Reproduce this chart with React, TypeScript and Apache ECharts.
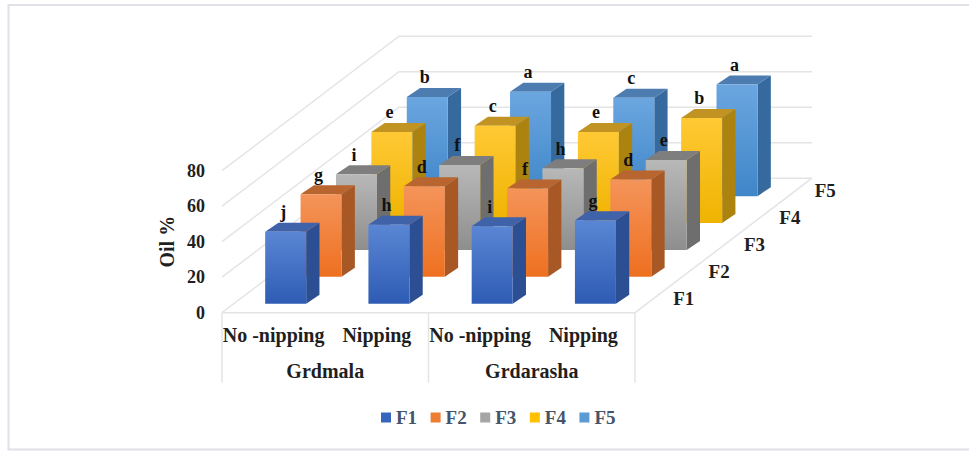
import React, { useEffect, useRef } from "react";
import * as echarts from "echarts";

// Oil percentage by nipping treatment (columns) and fertiliser level (depth rows)
const treatments = ["No -nipping", "Nipping", "No -nipping", "Nipping"];
const genotypes = ["Grdmala", "Grdarasha"];
const levels = ["F1", "F2", "F3", "F4", "F5"];
const yTicks = [0, 20, 40, 60, 80];

const f1Values = [40.5, 44.5, 43.6, 47];
const f2Values = [46.6, 51, 49.8, 54.9];
const f3Values = [42.6, 47.9, 46, 50.7];
const f4Values = [51.3, 54.8, 51.3, 59.2];
const f5Values = [55.9, 58.8, 55.4, 62.9];
const levelValues = [f1Values, f2Values, f3Values, f4Values, f5Values];

const f1Letters = ["j", "h", "i", "g"];
const f2Letters = ["g", "d", "f", "d"];
const f3Letters = ["i", "f", "h", "e"];
const f4Letters = ["e", "c", "e", "b"];
const f5Letters = ["b", "a", "c", "a"];
const levelLetters = [f1Letters, f2Letters, f3Letters, f4Letters, f5Letters];

const FONT = '"Liberation Serif", "Times New Roman", serif';
const INK = "#1f1f1f";
const WALL = "#e4e4e4";

// Oblique projection: one depth row moves this far on screen
const ROW_DX = 35.4;
const ROW_DY = -26.9;
// Bar footprint on screen
const BAR_W = 41;
const BAR_DX = 13.3;
const BAR_DY = -9;
const ROWS = levels.length;

const palette = [
  { legend: "#3565bd", hi: "#5a86d4", lo: "#2e5cb4", side: "#2b4f92", top: "#3f62a8" },
  { legend: "#ed7d31", hi: "#f4945a", lo: "#ee7020", side: "#a85824", top: "#b9652f" },
  { legend: "#a5a5a5", hi: "#b8b8b8", lo: "#8e8e8e", side: "#6e6e6e", top: "#7e7e7e" },
  { legend: "#ffc000", hi: "#ffc935", lo: "#efb300", side: "#ad8310", top: "#c09322" },
  { legend: "#5b9bd5", hi: "#6ba6e0", lo: "#3f86c8", side: "#36699e", top: "#4c7cb0" },
];

type Pt = [number, number];

// Front-lower-left corner of a bar, on screen
function barOrigin(api: any, cat: number, row: number): Pt {
  const [cx, y0] = api.coord([cat, 0]);
  return [
    cx + 1 + (row + 0.5) * ROW_DX - (BAR_W + BAR_DX) / 2,
    y0 + (row + 0.5) * ROW_DY - BAR_DY / 2,
  ];
}

function barHeight(api: any, value: number): number {
  return api.size([0, value])[1];
}

function makeBarSeries(row: number) {
  const c = palette[row];
  return {
    type: "custom",
    name: levels[row],
    z: 10 - row,
    silent: true,
    itemStyle: { color: c.legend },
    encode: { x: 0, y: 1 },
    data: levelValues[row].map((v, i) => [i, v]),
    renderItem: (_p: any, api: any) => {
      const [x, y] = barOrigin(api, api.value(0), row);
      const h = barHeight(api, api.value(1));
      const front: Pt[] = [[x, y], [x + BAR_W, y], [x + BAR_W, y - h], [x, y - h]];
      const side: Pt[] = [
        [x + BAR_W, y],
        [x + BAR_W + BAR_DX, y + BAR_DY],
        [x + BAR_W + BAR_DX, y + BAR_DY - h],
        [x + BAR_W, y - h],
      ];
      const top: Pt[] = [
        [x, y - h],
        [x + BAR_W, y - h],
        [x + BAR_W + BAR_DX, y + BAR_DY - h],
        [x + BAR_DX, y + BAR_DY - h],
      ];
      return {
        type: "group",
        children: [
          { type: "polygon", shape: { points: side }, style: { fill: c.side } },
          { type: "polygon", shape: { points: top }, style: { fill: c.top } },
          {
            type: "polygon",
            shape: { points: front },
            style: {
              fill: new echarts.graphic.LinearGradient(0, 0, 0, 1, [
                { offset: 0, color: c.hi },
                { offset: 1, color: c.lo },
              ]),
            },
          },
        ],
      };
    },
  };
}

// Significance letters above each bar, kept above every bar face
function makeLetterSeries(row: number) {
  return {
    type: "custom",
    z: 20,
    silent: true,
    encode: { x: 0, y: 1 },
    data: levelValues[row].map((v, i) => [i, v, levelLetters[row][i]]),
    renderItem: (_p: any, api: any) => {
      const [x, y] = barOrigin(api, api.value(0), row);
      const h = barHeight(api, api.value(1));
      return {
        type: "text",
        x: x + BAR_W / 2 - 2.5,
        y: y - h - 19.5,
        style: {
          text: levelLetters[row][api.value(0)],
          font: `bold 18px ${FONT}`,
          fill: "#111",
          align: "center",
          verticalAlign: "middle",
        },
      };
    },
  };
}

// Side wall, back wall and floor of the box, one entry per gridline value
const wallSeries = {
  type: "custom",
  z: 1,
  silent: true,
  encode: { y: 0 },
  data: yTicks.map((t) => [t]),
  renderItem: (_p: any, api: any) => {
    const band = api.size([1, 0])[0];
    const [cx, y] = api.coord([0, api.value(0)]);
    const x0 = cx - band / 2;
    const dx = ROWS * ROW_DX;
    const dy = ROWS * ROW_DY;
    const line = { stroke: WALL, lineWidth: 1.5 };
    return {
      type: "polyline",
      shape: {
        points: [
          [x0, y],
          [x0 + dx, y + dy],
          [x0 + dx + band * treatments.length, y + dy],
        ],
      },
      style: { ...line, fill: "none" },
    };
  },
};

// Front floor edge, right floor edge, and the dividers of the two-level category table
const tableSeries = {
  type: "custom",
  z: 1,
  silent: true,
  encode: { x: 0 },
  data: [[0]],
  renderItem: (_p: any, api: any) => {
    const band = api.size([1, 0])[0];
    const [cx, y] = api.coord([0, 0]);
    const x0 = cx - band / 2;
    const x1 = x0 + band * treatments.length;
    const style = { stroke: WALL, lineWidth: 1.5 };
    const seg = (a: number, b: number, c: number, d: number) => ({
      type: "line",
      shape: { x1: a, y1: b, x2: c, y2: d },
      style,
    });
    return {
      type: "group",
      children: [
        seg(x0, y, x1, y),
        seg(x1, y, x1 + ROWS * ROW_DX, y + ROWS * ROW_DY),
        seg(x0, y, x0, y + 70),
        seg((x0 + x1) / 2, y, (x0 + x1) / 2, y + 70),
        seg(x1, y, x1, y + 70),
      ],
    };
  },
};

// Depth-axis labels along the right floor edge
const depthLabelSeries = {
  type: "custom",
  z: 20,
  silent: true,
  encode: { x: 0 },
  data: levels.map((_, i) => [i]),
  renderItem: (_p: any, api: any) => {
    const band = api.size([1, 0])[0];
    const [cx, y] = api.coord([0, 0]);
    const x1 = cx - band / 2 + band * treatments.length;
    const row = api.value(0);
    return {
      type: "text",
      x: x1 + (row + 0.5) * ROW_DX + 31,
      y: y + (row + 0.5) * ROW_DY - 1,
      style: {
        text: levels[row],
        font: `bold 19px ${FONT}`,
        fill: INK,
        align: "center",
        verticalAlign: "middle",
      },
    };
  },
};

export default function App() {
  const ref = useRef<HTMLDivElement>(null);

  useEffect(() => {
    const chart = echarts.init(ref.current!, undefined, { renderer: "svg" });
    chart.setOption({
      animation: false,
      backgroundColor: "#ffffff",
      grid: { left: 222, top: 170.7, width: 413, height: 142 },
      legend: {
        data: levels,
        left: 376,
        top: 403,
        icon: "rect",
        itemWidth: 10,
        itemHeight: 10,
        itemGap: 13.5,
        selectedMode: false,
        textStyle: {
          fontFamily: FONT,
          fontWeight: "bold",
          fontSize: 19,
          color: "#44546a",
        },
      },
      xAxis: [
        {
          type: "category",
          data: treatments,
          position: "bottom",
          axisLine: { show: false },
          axisTick: { show: false },
          axisLabel: {
            interval: 0,
            margin: 12.5,
            fontFamily: FONT,
            fontWeight: "bold",
            fontSize: 20,
            color: INK,
          },
        },
        {
          type: "category",
          data: genotypes,
          position: "bottom",
          offset: 36,
          axisLine: { show: false },
          axisTick: { show: false },
          axisLabel: {
            interval: 0,
            margin: 12.5,
            fontFamily: FONT,
            fontWeight: "bold",
            fontSize: 20,
            color: INK,
          },
        },
      ],
      yAxis: {
        type: "value",
        min: 0,
        max: 80,
        interval: 20,
        name: "Oil %",
        nameLocation: "middle",
        nameRotate: 90,
        nameGap: 45,
        nameTextStyle: {
          fontFamily: FONT,
          fontWeight: "bold",
          fontSize: 20,
          color: INK,
        },
        axisLine: { show: false },
        axisTick: { show: false },
        splitLine: { show: false },
        axisLabel: {
          margin: 17,
          fontFamily: FONT,
          fontWeight: "bold",
          fontSize: 18,
          color: INK,
        },
      },
      graphic: [
        {
          type: "polyline",
          silent: true,
          z: 0,
          shape: { points: [[969, 5], [8.5, 5], [8.5, 449.5], [969, 449.5]] },
          style: { stroke: "#e0e0e8", lineWidth: 2, fill: "none" },
        },
      ],
      series: [
        wallSeries,
        tableSeries,
        ...levels.map((_, r) => makeBarSeries(r)),
        ...levels.map((_, r) => makeLetterSeries(r)),
        depthLabelSeries,
      ],
    });
    return () => chart.dispose();
  }, []);

  return (
    <div
      ref={ref}
      style={{ position: "fixed", left: 0, top: 0, width: 969, height: 451 }}
    />
  );
}
